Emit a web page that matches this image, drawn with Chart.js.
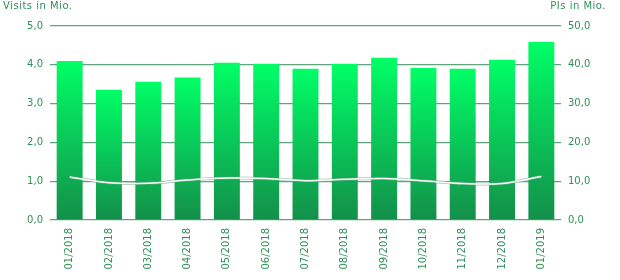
<!DOCTYPE html>
<html>
<head>
<meta charset="utf-8">
<script src="https://cdn.jsdelivr.net/npm/chart.js@4/dist/chart.umd.min.js"></script>
<style>
  html, body { margin: 0; padding: 0; background: #ffffff; }
  #wrap { position: relative; width: 620px; height: 280px; }
  canvas { position: absolute; left: 0; top: 0; }
  .ttl { position: absolute; top: 0px; font: 10px "DejaVu Sans", sans-serif; color: #2f8f57; white-space: nowrap; letter-spacing: 0.5px; }
</style>
</head>
<body>
<div id="wrap">
  <canvas id="c" width="620" height="280"></canvas>
  <div class="ttl" id="tl" style="left:3px;">Visits in Mio.</div>
  <div class="ttl" id="tr" style="right:14px;">PIs in Mio.</div>
</div>
<script>
const categories = ["01/2018","02/2018","03/2018","04/2018","05/2018","06/2018","07/2018","08/2018","09/2018","10/2018","11/2018","12/2018","01/2019"];
const visits = [4.10, 3.36, 3.56, 3.67, 4.05, 4.03, 3.90, 4.03, 4.18, 3.92, 3.90, 4.13, 4.59];
const pis = [11.1, 9.6, 9.5, 10.3, 10.8, 10.7, 10.1, 10.5, 10.7, 10.1, 9.4, 9.4, 11.2];
const leftTicks = [0, 1, 2, 3, 4, 5];
const rightTicks = [0, 10, 20, 30, 40, 50];

const textColor = '#2f8f57';
const gridColor = '#5fa47c';
const fmt = v => Number(v).toFixed(1).replace('.', ',');
const tickFont = { family: 'DejaVu Sans', size: 10 };

function barGradient(ctx) {
  const chart = ctx.chart;
  const area = chart.chartArea;
  if (!area) return '#00ff66';
  const top = chart.scales.y.getPixelForValue(ctx.raw);
  const g = chart.ctx.createLinearGradient(0, top, 0, area.bottom);
  g.addColorStop(0, '#00ff66');
  g.addColorStop(1, '#138f4a');
  return g;
}

new Chart(document.getElementById('c'), {
  data: {
    labels: categories,
    datasets: [
      { type: 'line', data: pis, yAxisID: 'y2', borderColor: '#ffffff', borderWidth: 1.5,
        pointRadius: 0, tension: 0.35, order: 0 },
      { type: 'line', data: pis, yAxisID: 'y2', borderColor: 'rgba(110,165,135,0.6)', borderWidth: 3,
        pointRadius: 0, tension: 0.35, order: 1 },
      { type: 'bar', data: visits, yAxisID: 'y', backgroundColor: barGradient,
        categoryPercentage: 1.0, barPercentage: 0.66, order: 2 }
    ]
  },
  options: {
    responsive: false,
    animation: false,
    layout: { padding: { top: 26, left: 0, right: 0, bottom: 0 } },
    plugins: { legend: { display: false }, tooltip: { enabled: false }, title: { display: false } },
    scales: {
      x: {
        grid: { display: false, drawTicks: false },
        border: { display: false },
        ticks: { color: textColor, font: tickFont, minRotation: 90, maxRotation: 90, padding: 8, autoSkip: false },
        afterFit: s => { s.height = 60; }
      },
      y: {
        position: 'left', min: 0, max: 5,
        afterBuildTicks: s => { s.ticks = leftTicks.map(v => ({ value: v })); },
        grid: { color: gridColor, lineWidth: 1.2, drawTicks: false },
        border: { display: false },
        ticks: { color: textColor, font: tickFont, padding: 7, callback: fmt },
        afterFit: s => { s.width = 50; }
      },
      y2: {
        position: 'right', min: 0, max: 50,
        afterBuildTicks: s => { s.ticks = rightTicks.map(v => ({ value: v })); },
        grid: { display: false, drawTicks: false },
        border: { display: false },
        ticks: { color: textColor, font: tickFont, padding: 7, callback: fmt },
        afterFit: s => { s.width = 59; }
      }
    }
  }
});
</script>
</body>
</html>
